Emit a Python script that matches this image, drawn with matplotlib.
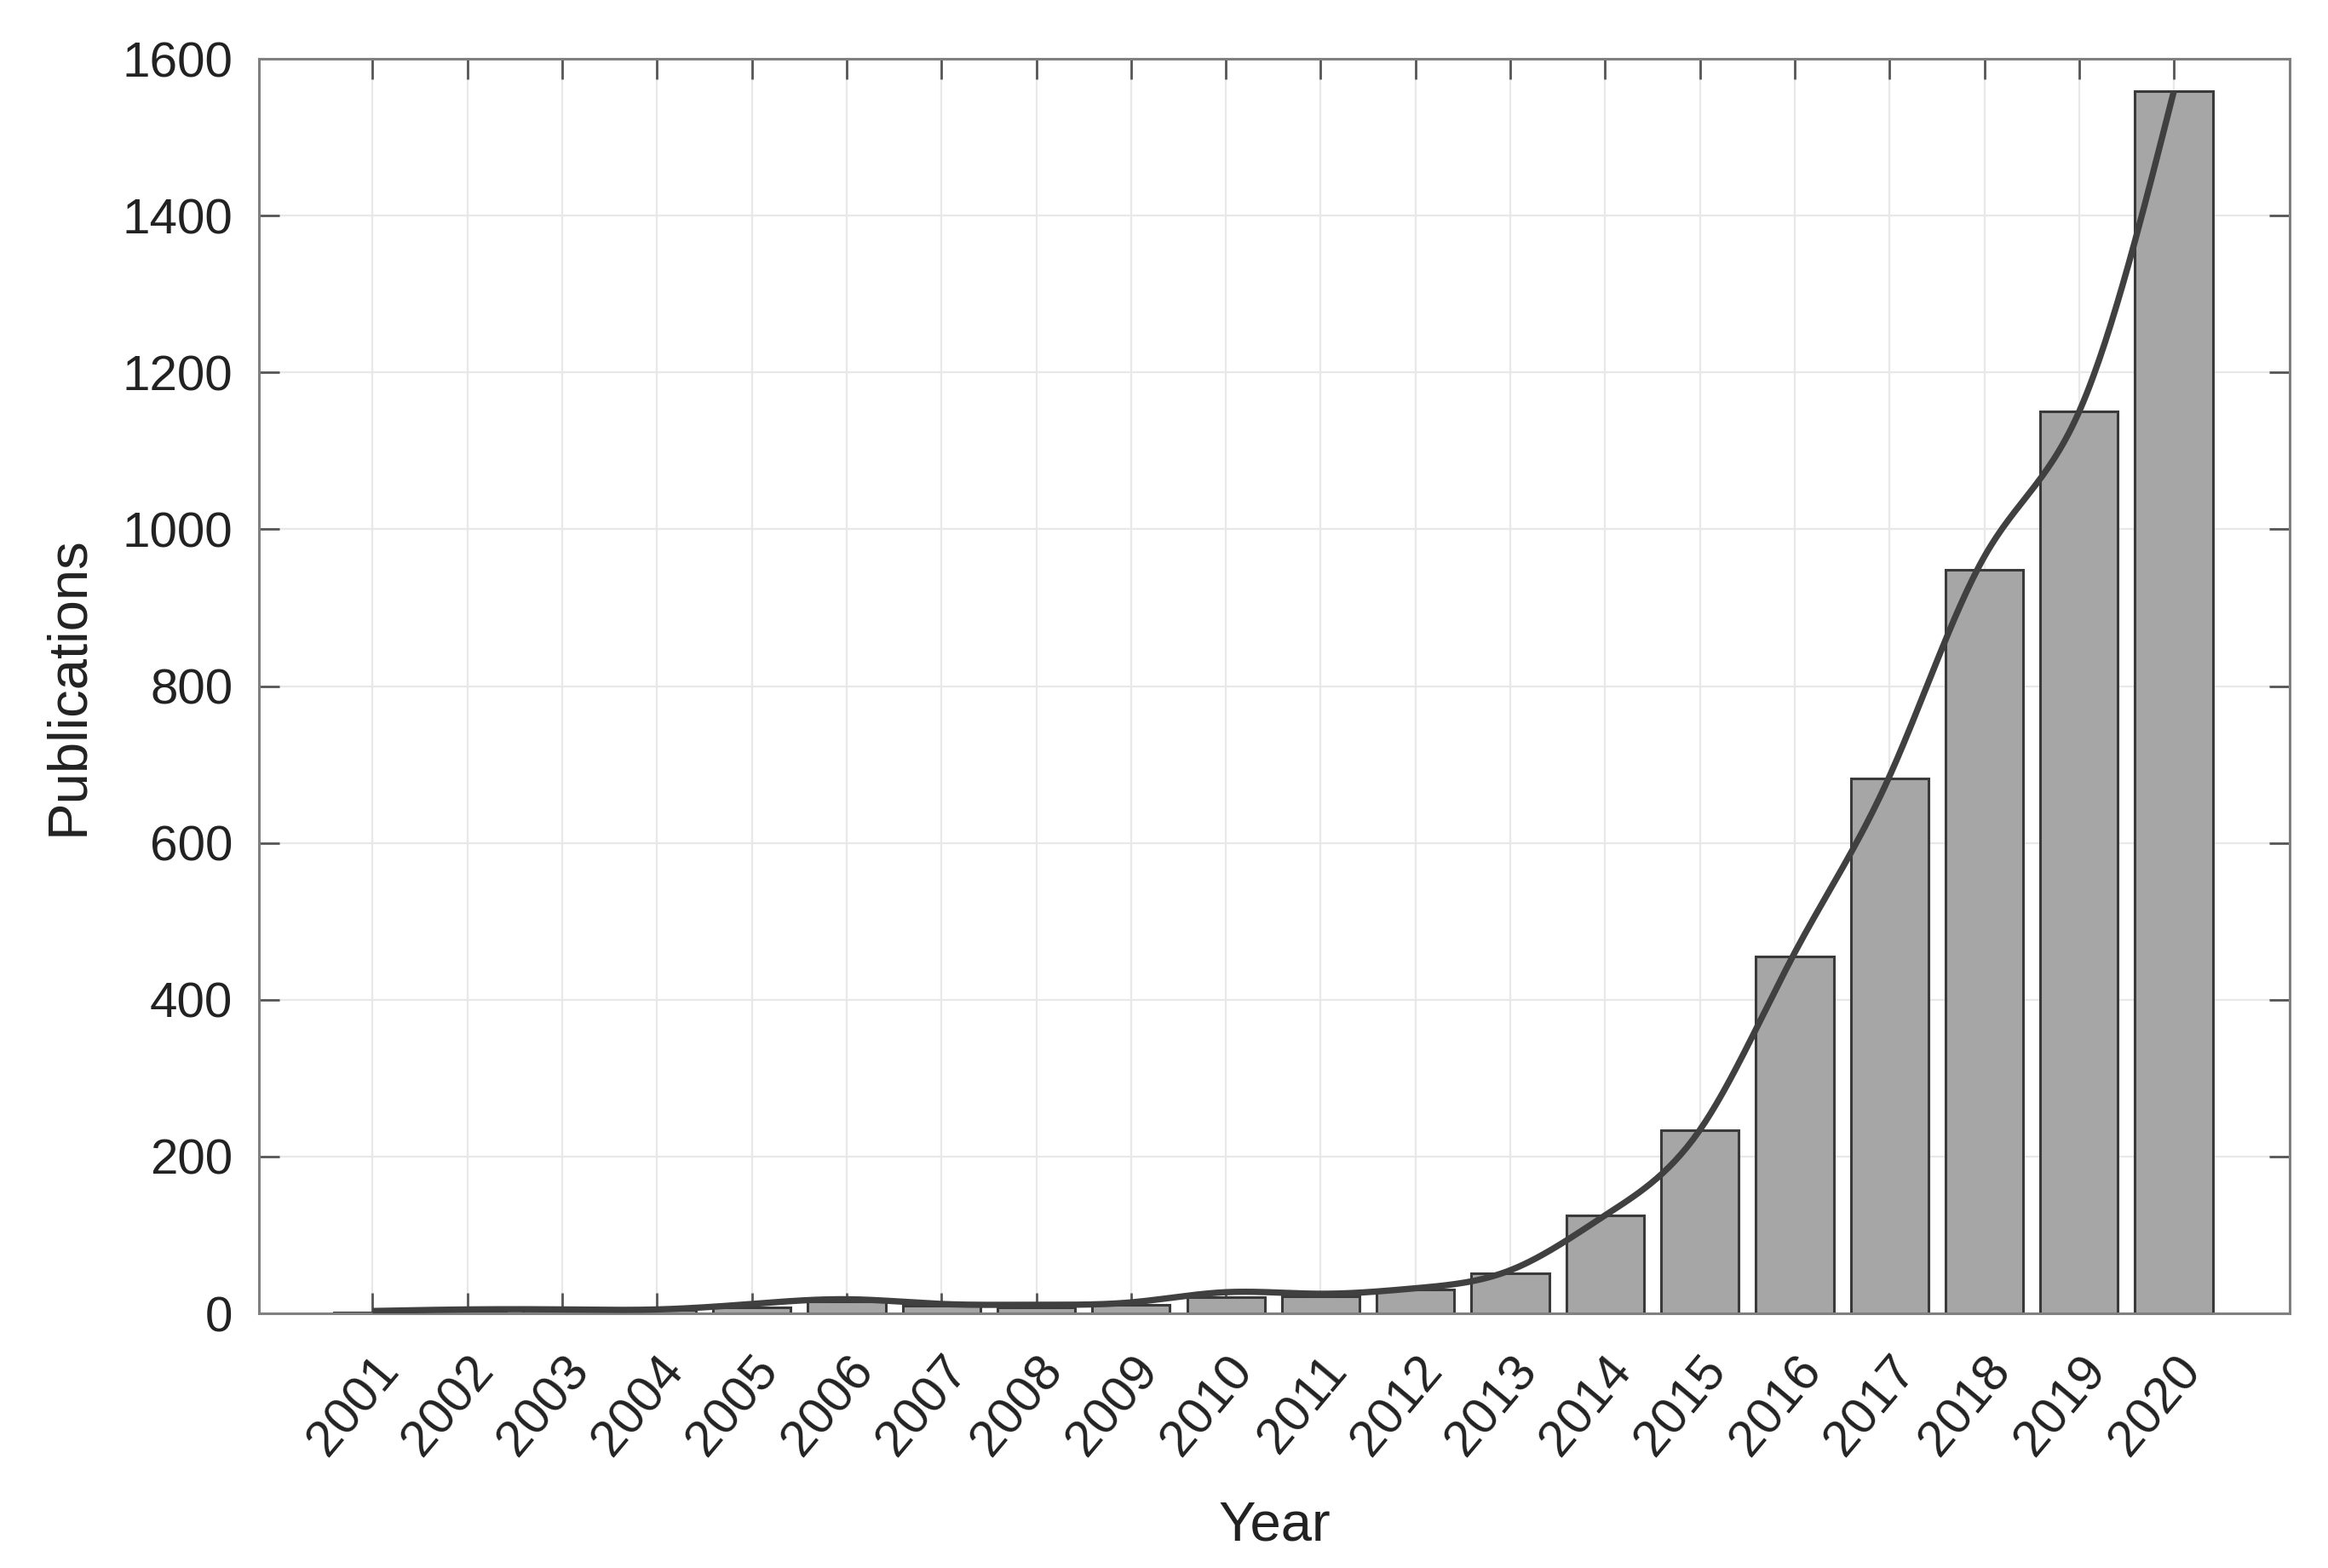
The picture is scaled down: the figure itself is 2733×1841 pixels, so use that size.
import numpy as np
import matplotlib
matplotlib.use("Agg")
import matplotlib.pyplot as plt

years = [2001, 2002, 2003, 2004, 2005, 2006, 2007, 2008, 2009, 2010,
         2011, 2012, 2013, 2014, 2015, 2016, 2017, 2018, 2019, 2020]
publications = [1, 3, 4, 4, 8, 15, 10, 8, 11, 21,
                22, 30, 51, 125, 234, 455, 682, 948, 1150, 1559]
trend = [3, 5, 5, 5, 12, 18, 12, 11, 14, 27,
         25, 32, 55, 125, 234, 460, 685, 965, 1150, 1559]
yticks = [0, 200, 400, 600, 800, 1000, 1200, 1400, 1600]


def natural_spline(x, y, xs):
    x = np.asarray(x, float)
    y = np.asarray(y, float)
    n = len(x)
    h = np.diff(x)
    A = np.zeros((n, n))
    b = np.zeros(n)
    A[0, 0] = 1
    A[-1, -1] = 1
    for i in range(1, n - 1):
        A[i, i - 1] = h[i - 1]
        A[i, i] = 2 * (h[i - 1] + h[i])
        A[i, i + 1] = h[i]
        b[i] = 3 * ((y[i + 1] - y[i]) / h[i] - (y[i] - y[i - 1]) / h[i - 1])
    c = np.linalg.solve(A, b)
    out = np.empty_like(xs)
    for k, xv in enumerate(xs):
        i = min(max(np.searchsorted(x, xv) - 1, 0), n - 2)
        dx = xv - x[i]
        bi = (y[i + 1] - y[i]) / h[i] - h[i] * (2 * c[i] + c[i + 1]) / 3
        di = (c[i + 1] - c[i]) / (3 * h[i])
        out[k] = y[i] + bi * dx + c[i] * dx ** 2 + di * dx ** 3
    return out


plt.rcParams['font.family'] = ['Liberation Sans', 'DejaVu Sans']

fig = plt.figure(figsize=(27.33, 18.41), dpi=100)
ax = fig.add_axes([0.1112, 0.1624, 0.8723, 0.8001])

ax.bar(years, publications, width=0.82, color='#a6a6a6',
       edgecolor='#3a3a3a', linewidth=2.2, zorder=2)

xs = np.linspace(years[0], years[-1], 600)
ax.plot(xs, natural_spline(years, trend, xs), color='#404040',
        linewidth=5.3, zorder=3, solid_capstyle='butt')

ax.set_xlim(1999.8, 2021.22)
ax.set_ylim(0, 1600)
ax.set_yticks(yticks)
ax.set_xticks(years)
ax.set_xticklabels([str(y) for y in years], rotation=50, ha='right',
                   va='top', rotation_mode='anchor', fontsize=43)

ax.grid(True, color='#e8e8e8', linewidth=1.6, zorder=0)
ax.set_axisbelow(True)

for s in ax.spines.values():
    s.set_color('#808080')
    s.set_linewidth(2.2)

ax.tick_params(axis='both', direction='in', length=17, width=2,
               color='#555555', labelcolor='#222222',
               top=True, right=True)
ax.tick_params(axis='y', labelsize=42, pad=22)
ax.tick_params(axis='x', pad=29)

ax.set_xlabel('Year', fontsize=47, color='#222222', labelpad=30)
ax.set_ylabel('Publications', fontsize=47, color='#222222', labelpad=24)

fig.savefig('out.png', dpi=100, facecolor='white')
